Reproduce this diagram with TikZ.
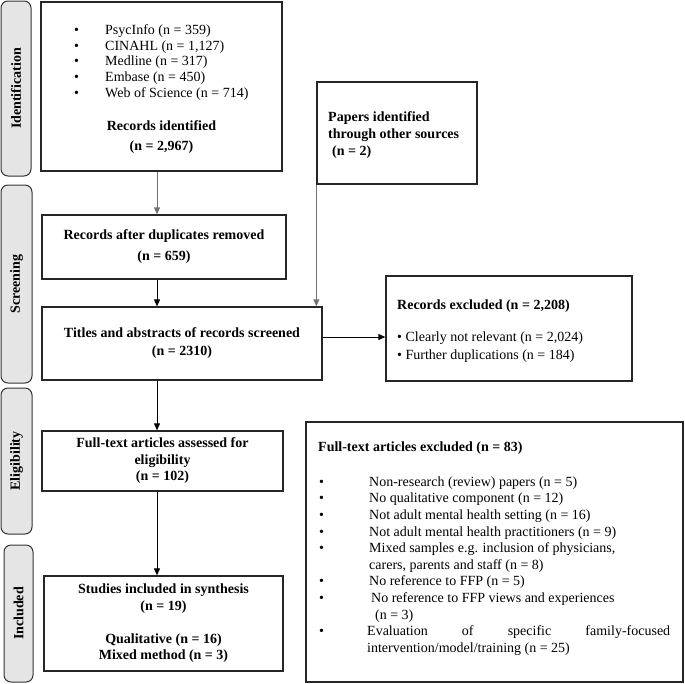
\documentclass[tikz,border=0pt]{standalone}
\usepackage{fontspec}
\setmainfont{Liberation Serif}
\usetikzlibrary{arrows.meta,calc}
\begin{document}
\begin{tikzpicture}[x=1pt,y=-1pt,
  box/.style={draw=black!85,line width=1.3pt,inner sep=0pt,align=center,font=\fontsize{14}{16.5}\selectfont\bfseries},
  side/.style={draw=black!80,line width=1pt,fill=black!10,rounded corners=7pt,inner sep=0pt},
  sidelabel/.style={rotate=90,inner sep=0pt,font=\fontsize{14}{16}\selectfont\bfseries},
  txt/.style={inner sep=0pt,align=left,font=\fontsize{14}{16.5}\selectfont},
  btxt/.style={inner sep=0pt,align=left,font=\fontsize{14}{16.5}\selectfont\bfseries},
  arr/.style={-{Triangle[length=7pt,width=6pt]},line width=0.9pt},
]
\useasboundingbox (0,0) rectangle (685,683);

% side bars
\node[side,minimum width=30pt,minimum height=175pt] (sI) at (16,88.5) {};
\node[sidelabel] (sIl) at (sI.center) {Identification};
\node[side,minimum width=31pt,minimum height=198pt] (sS) at (16.5,284) {};
\node[sidelabel] (sSl) at (sS.center) {Screening};
\node[side,minimum width=31pt,minimum height=146pt] (sE) at (16.5,461) {};
\node[sidelabel] (sEl) at (sE.center) {Eligibility};
\node[side,minimum width=29pt,minimum height=137pt] (sN) at (18.5,613.5) {};
\node[sidelabel] (sNl) at (sN.center) {Included};

% identification box
\node[box,minimum width=241pt,minimum height=169pt] (b1) at (161.5,86.5) {};
\node[txt,anchor=west,font=\fontsize{14}{15.75}\selectfont] (b1list) at (74,62.5) {%
\makebox[31pt][l]{\textbullet}PsycInfo (n = 359)\\
\makebox[31pt][l]{\textbullet}CINAHL (n = 1,127)\\
\makebox[31pt][l]{\textbullet}Medline (n = 317)\\
\makebox[31pt][l]{\textbullet}Embase (n = 450)\\
\makebox[31pt][l]{\textbullet}Web of Science (n = 714)};
\node[inner sep=0pt,align=center,font=\fontsize{14}{20}\selectfont\bfseries] (b1head) at (161.5,137) {Records identified\\(n = 2,967)};

% other sources
\node[box,minimum width=160pt,minimum height=102pt] (pap) at (397,133) {};
\node[btxt,anchor=west,font=\fontsize{14}{17}\selectfont\bfseries] (paptxt) at (328,135) {Papers identified\\through other sources\\\hspace*{4pt}(n = 2)};

% screening
\node[box,minimum width=244pt,minimum height=64pt,font=\fontsize{14}{21}\selectfont\bfseries] (dup) at (164,247) {Records after duplicates removed\\(n = 659)};
\node[box,minimum width=280pt,minimum height=73pt,font=\fontsize{14}{18}\selectfont\bfseries] (titles) at (182,343.5) {Titles and abstracts of records screened\\(n = 2310)};

% records excluded
\node[box,minimum width=246pt,minimum height=105pt] (recex) at (509,328.5) {};
\node[btxt,anchor=west] (recexh) at (397,306) {Records excluded (n = 2,208)};
\node[txt,anchor=west,font=\fontsize{14}{18}\selectfont] (recexl) at (397,347) {\textbullet{} Clearly not relevant (n = 2,024)\\\textbullet{} Further duplications (n = 184)};

% eligibility
\node[box,minimum width=241pt,minimum height=60pt] (assess) at (162.5,461) {Full-text articles assessed for\\eligibility\\(n = 102)};

% included
\node[box,minimum width=239pt,minimum height=95pt] (incl) at (163.5,623.5) {Studies included in synthesis\\(n = 19)\\[16.5pt]Qualitative (n = 16)\\Mixed method (n = 3)};

% full-text excluded
\node[draw=black!85,line width=1.3pt,inner sep=0pt,minimum width=377pt,minimum height=260pt] (ftex) at (494.5,552) {};
\node[btxt,anchor=west] (ftexh) at (318,448) {Full-text articles excluded (n = 83)};
\node[txt,anchor=west,font=\fontsize{14}{16.6}\selectfont] (ftexl) at (319,566) {%
\makebox[50pt][l]{\textbullet}Non-research (review) papers (n = 5)\\
\makebox[50pt][l]{\textbullet}No qualitative component (n = 12)\\
\makebox[50pt][l]{\textbullet}Not adult mental health setting (n = 16)\\
\makebox[50pt][l]{\textbullet}Not adult mental health practitioners (n = 9)\\
\makebox[50pt][l]{\textbullet}Mixed samples e.g. inclusion of physicians,\\
\hspace*{50pt}carers, parents and staff (n = 8)\\
\makebox[50pt][l]{\textbullet}No reference to FFP (n = 5)\\
\makebox[50pt][l]{\textbullet}\hspace*{2pt}No reference to FFP views and experiences\\
\hspace*{56pt}(n = 3)\\
\makebox[48pt][l]{\textbullet}\makebox[303pt][s]{Evaluation\hfill of\hfill specific\hfill family-focused}\\
\hspace*{48pt}intervention/model/training (n = 25)};

% connectors
\coordinate (ax) at (157,0);
\draw[arr,draw=black!55] (ax |- b1.south) -- (ax |- dup.north);
\draw[arr] (ax |- dup.south) -- (ax |- titles.north);
\draw[arr,draw=black!55] (pap.south west) -- (pap.south west |- titles.north);
\draw[arr] ([yshift=6.5pt]titles.east) -- ([yshift=6.5pt]titles.east -| recex.west);
\draw[arr] (ax |- titles.south) -- (ax |- assess.north);
\draw[arr] (ax |- assess.south) -- (ax |- incl.north);
\end{tikzpicture}
\end{document}
